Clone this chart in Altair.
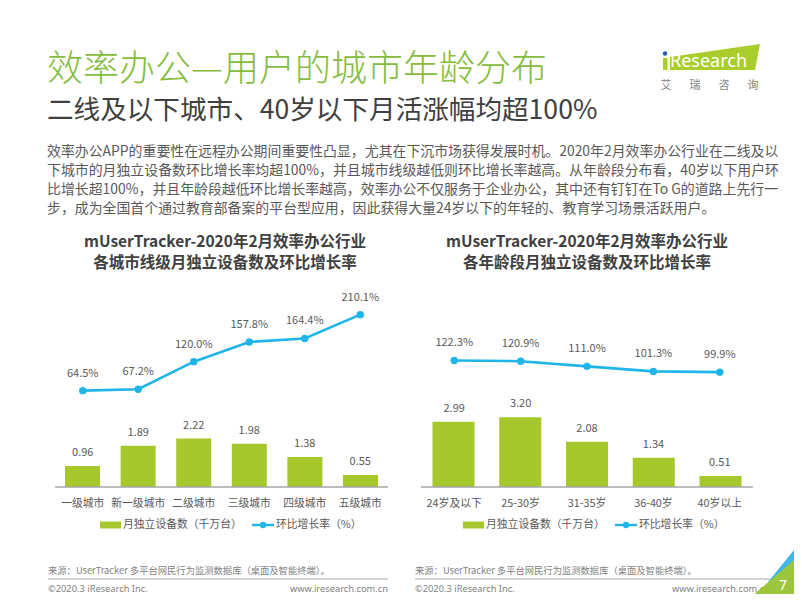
import altair as alt
import pandas as pd

# ---------------- data ----------------
cities = ["一级城市", "新一级城市", "二级城市", "三级城市", "四级城市", "五级城市"]
city_devices = [0.96, 1.89, 2.22, 1.98, 1.38, 0.55]
city_growth = [64.5, 67.2, 120.0, 157.8, 164.4, 210.1]

ages = ["24岁及以下", "25-30岁", "31-35岁", "36-40岁", "40岁以上"]
age_devices = [2.99, 3.20, 2.08, 1.34, 0.51]
age_growth = [122.3, 120.9, 111.0, 101.3, 99.9]

title = "效率办公—用户的城市年龄分布"
subtitle = "二线及以下城市、40岁以下月活涨幅均超100%"
body = [
    "效率办公APP的重要性在远程办公期间重要性凸显，尤其在下沉市场获得发展时机。2020年2月效率办公行业在二线及以",
    "下城市的月独立设备数环比增长率均超100%，并且城市线级越低则环比增长率越高。从年龄段分布看，40岁以下用户环",
    "比增长超100%，并且年龄段越低环比增长率越高，效率办公不仅服务于企业办公，其中还有钉钉在To  G的道路上先行一",
    "步，成为全国首个通过教育部备案的平台型应用，因此获得大量24岁以下的年轻的、教育学习场景活跃用户。",
]
left_title = ["mUserTracker-2020年2月效率办公行业", "各城市线级月独立设备数及环比增长率"]
right_title = ["mUserTracker-2020年2月效率办公行业", "各年龄段月独立设备数及环比增长率"]
legend_bar = "月独立设备数（千万台）"
legend_line = "环比增长率（%）"
source = "来源：UserTracker 多平台网民行为监测数据库（桌面及智能终端）。"
copyright_txt = "©2020.3 iResearch Inc."
site = "www.iresearch.com.cn"

# ---------------- style ----------------
FONT = "Noto Sans CJK SC"
GREEN = "#a6c82d"
TGREEN = "#85bc3f"
BLUE = "#1fb5e9"
DARK = "#404040"
MID = "#595959"
GREY = "#7f7f7f"
O = 8  # page margin offset

one = pd.DataFrame({"k": [0]})


def tx(text, x, y, size, color, weight="normal", align="left", font=FONT, **kw):
    return alt.Chart(one).mark_text(
        text=text, fontSize=size, color=color, fontWeight=weight,
        align=align, baseline="middle", font=font, **kw
    ).encode(x=alt.value(x - O), y=alt.value(y - O))


def rule(x1, x2, y, color, w):
    return alt.Chart(one).mark_rule(color=color, strokeWidth=w).encode(
        x=alt.value(x1 - O), x2=alt.value(x2 - O), y=alt.value(y - O))


def shape(pts, color):
    path = "M" + " L".join(f"{x - O},{y - O}" for x, y in pts) + " Z"
    return alt.Chart(one).mark_point(
        shape=path, size=4, filled=True, color=color, opacity=1, strokeWidth=0
    ).encode(x=alt.value(0), y=alt.value(0))


def panel(cats, devices, growth, xrange, pi, po, cx, ttl, leg):
    df = pd.DataFrame({
        "cat": cats, "dev": devices, "gr": growth,
        "idx": list(range(len(cats))),
        "dlab": [f"{v:.2f}" for v in devices],
        "glab": [f"{v:.1f}%" for v in growth],
    })
    xs = alt.Scale(domain=cats, range=xrange, paddingInner=pi, paddingOuter=po)
    yb = alt.Scale(domain=[0, 10], range=[487 - O, 487 - O - 218], nice=False)
    yg = alt.Scale(domain=[0, 200], range=[424.3 - O, 424.3 - O - 104.4], nice=False)
    X = alt.X("cat:N", scale=xs, axis=None)
    base = alt.Chart(df)
    layers = [
        base.mark_bar(color=GREEN).encode(x=X, y=alt.Y("dev:Q", scale=yb, axis=None)),
        base.mark_text(fontSize=11, color=MID, font=FONT, dy=-13, baseline="middle").encode(
            x=X, y=alt.Y("dev:Q", scale=yb, axis=None), text="dlab:N"),
        base.mark_line(color=BLUE, strokeWidth=2.6).encode(
            x=X, y=alt.Y("gr:Q", scale=yg, axis=None), order=alt.Order("idx:Q")),
        base.mark_circle(color=BLUE, size=55, opacity=1).encode(
            x=X, y=alt.Y("gr:Q", scale=yg, axis=None)),
        base.mark_text(fontSize=11, color=MID, font=FONT, dy=-17, baseline="middle").encode(
            x=X, y=alt.Y("gr:Q", scale=yg, axis=None), text="glab:N"),
        base.mark_text(fontSize=10.8, color=MID, font=FONT, baseline="middle").encode(
            x=X, y=alt.value(504 - O), text="cat:N"),
        rule(xrange[0] + O, xrange[1] + O, 487, "#a6a6a6", 1.5),
        tx(ttl[0], cx, 242, 15.5, DARK, weight="bold", align="center"),
        tx(ttl[1], cx, 262.5, 15.5, DARK, weight="bold", align="center"),
    ]
    lx = leg
    layers += [
        alt.Chart(one).mark_rect(color=GREEN).encode(
            x=alt.value(lx - O), x2=alt.value(lx + 21 - O),
            y=alt.value(521.5 - O), y2=alt.value(528.5 - O)),
        tx(legend_bar, lx + 23, 525, 10.8, MID),
        rule(lx + 152, lx + 174, 525, BLUE, 2.4),
        alt.Chart(one).mark_circle(color=BLUE, size=40, opacity=1).encode(
            x=alt.value(lx + 163 - O), y=alt.value(525 - O)),
        tx(legend_line, lx + 176, 525, 10.8, MID),
    ]
    return layers


layers = []
# header
layers.append(tx(title, 47, 70, 36, TGREEN, weight=300))
layers.append(tx(subtitle, 47, 111, 26.6, DARK))
for i, line in enumerate(body):
    layers.append(tx(line, 47, 151.5 + i * 19.3, 13.9, MID))

# logo
layers.append(shape([(670, 57), (760, 44), (755, 70), (670, 70)], "#a9cd2a"))
layers.append(shape([(663, 58), (667.5, 58), (667.5, 70), (663, 70)], "#a9cd2a"))
layers.append(alt.Chart(one).mark_circle(color="#2b5aa8", size=20, opacity=1).encode(
    x=alt.value(665 - O), y=alt.value(53.5 - O)))
layers.append(tx("Research", 670, 62, 18, "white", font="Noto Sans"))
for i, ch in enumerate("艾瑞咨询"):
    layers.append(tx(ch, 666 + i * 29, 86, 11, GREY, align="center"))

# panels
layers += panel(cities, city_devices, city_growth, [55 - O, 388 - O], 0.37, 0.18, 225, left_title, 100)
layers += panel(ages, age_devices, age_growth, [421 - O, 753 - O], 0.37, 0.172, 587, right_title, 463)

# footer
for x0, x1 in [(48, 388), (415, 770)]:
    layers.append(tx(source, x0, 571, 9.3, GREY))
    layers.append(rule(x0, x1, 579, "#a6a6a6", 1))
    layers.append(tx(copyright_txt, x0, 589, 9.3, GREY, font="Noto Sans"))
    layers.append(tx(site, x1, 589, 9.3, GREY, align="right", font="Noto Sans"))

# page corner
layers.append(shape([(768, 582), (802, 540), (802, 582)], "#3fb5e8"))
layers.append(shape([(745, 602), (802, 553), (802, 602)], "#9cc63b"))
layers.append(tx("7", 783, 586, 14, "white", align="center", font="Noto Sans"))

chart = alt.layer(*layers).resolve_scale(x="independent", y="independent").properties(
    width=786, height=586,
    autosize=alt.AutoSizeParams(type="none"),
    padding=0,
).configure_view(stroke=None)

chart.save("out.html", embed_options={"renderer": "svg", "actions": False})
